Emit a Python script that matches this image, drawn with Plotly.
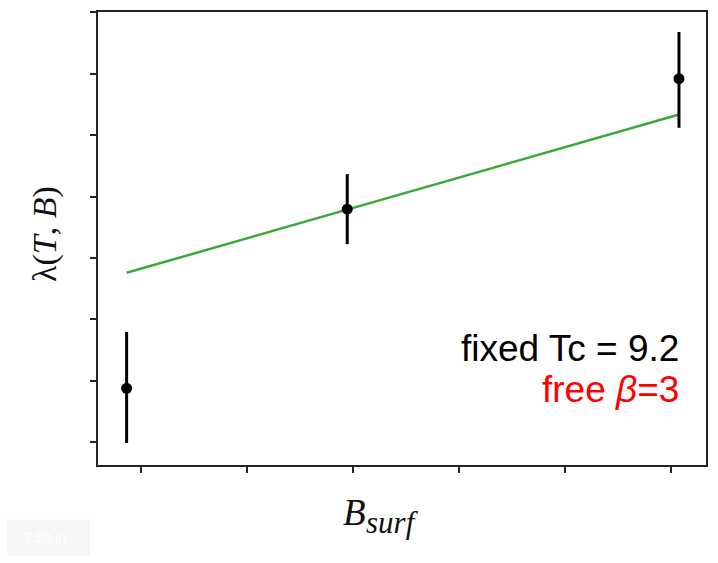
import plotly.graph_objects as go

# data (arbitrary units)
pts_x = [-0.135, 1.946, 5.075]
pts_y = [0.876, 3.794, 5.919]
err_plus = [0.92, 0.57, 0.76]
err_minus = [0.89, 0.57, 0.80]

fit_x = [-0.135, 1.946, 5.075]
fit_y = [2.757, 3.79, 5.335]

x_ticks = [0, 1, 2, 3, 4, 5]
y_ticks = [0, 1, 2, 3, 4, 5, 6, 7]

fig = go.Figure()
fig.add_trace(go.Scatter(x=fit_x, y=fit_y, mode="lines",
                         line=dict(color="#3aa83a", width=2.5), hoverinfo="skip"))
fig.add_trace(go.Scatter(x=pts_x, y=pts_y, mode="markers",
                         marker=dict(color="black", size=11),
                         error_y=dict(type="data", array=err_plus, arrayminus=err_minus,
                                      color="black", thickness=3, width=0)))

axis_common = dict(showgrid=False, zeroline=False, showline=True, linecolor="#222",
                   linewidth=2, mirror=True, ticks="outside", ticklen=6, tickwidth=1.5,
                   tickcolor="#222", showticklabels=False)
fig.update_xaxes(range=[-0.405, 5.33], tickvals=x_ticks, **axis_common)
fig.update_yaxes(range=[-0.373, 7.005], tickvals=y_ticks, **axis_common)

fig.add_annotation(x=(682 - 141) / 106.2, y=1.53, xref="x", yref="y", text="fixed Tc = 9.2",
                   showarrow=False, xanchor="right", yanchor="middle",
                   font=dict(family="Liberation Sans", size=37, color="black"))
fig.add_annotation(x=(682 - 141) / 106.2, y=0.85, xref="x", yref="y", text="free <i>β</i>=3",
                   showarrow=False, xanchor="right", yanchor="middle",
                   font=dict(family="Liberation Sans", size=37, color="#ff0000"))

# axis titles
fig.add_annotation(x=(368 - 98) / 609, y=(465 - 513) / 455, xref="paper", yref="paper",
                   text="<i>B</i>", showarrow=False, xanchor="right", yanchor="middle",
                   font=dict(family="Liberation Serif", size=37, color="#111"))
fig.add_annotation(x=(364 - 98) / 609, y=(465 - 523) / 455, xref="paper", yref="paper",
                   text="<i>surf</i>", showarrow=False, xanchor="left", yanchor="middle",
                   font=dict(family="Liberation Serif", size=31, color="#111"))
fig.add_annotation(x=(45 - 98) / 609, y=(465 - 233) / 455, xref="paper", yref="paper",
                   text="λ(<i>T</i>, <i>B</i>)", showarrow=False, textangle=-90,
                   xanchor="center", yanchor="middle",
                   font=dict(family="Liberation Serif", size=34, color="#111"))

# faint size badge at the bottom-left
fig.add_shape(type="rect", xref="paper", yref="paper",
              x0=(7 - 98) / 609, x1=(90 - 98) / 609,
              y0=(465 - 556) / 455, y1=(465 - 520) / 455,
              fillcolor="#f6f6f6", line=dict(width=0), layer="below")
fig.add_annotation(x=(45 - 98) / 609, y=(465 - 538) / 455, xref="paper", yref="paper",
                   text="7.50 in", showarrow=False, xanchor="center", yanchor="middle",
                   font=dict(family="Liberation Sans", size=14, color="#ffffff"))

fig.update_layout(width=718, height=563, margin=dict(l=98, r=11, t=10, b=98),
                  paper_bgcolor="white", plot_bgcolor="white", showlegend=False)

fig.write_html("out.html")
